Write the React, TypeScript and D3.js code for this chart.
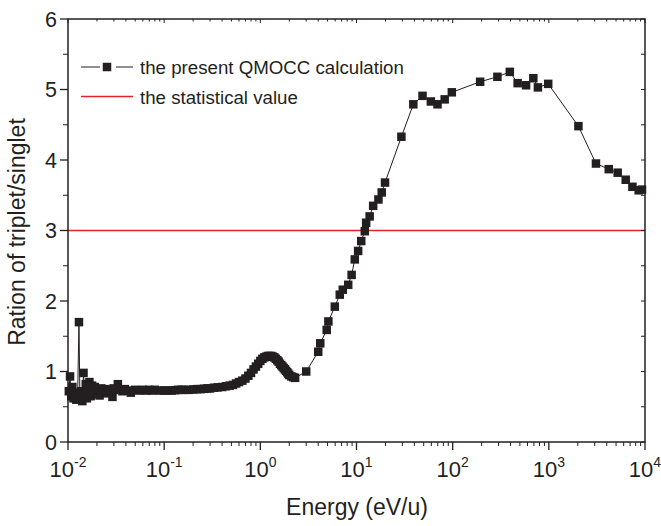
import React from "react";
import * as d3 from "d3";

const noisyX = [0.0102, 0.0105, 0.0108, 0.0111, 0.0114, 0.0118, 0.0122, 0.0126, 0.013, 0.0133, 0.0137, 0.0141, 0.0145, 0.0149, 0.0153, 0.0157, 0.0162, 0.0167, 0.0172, 0.0178, 0.0184, 0.019, 0.0197, 0.0205, 0.0213, 0.0222, 0.0232, 0.0243, 0.0255, 0.0268, 0.0282, 0.029, 0.0298, 0.0315, 0.033, 0.0348, 0.0368, 0.039, 0.042, 0.045];
const noisyY = [0.72, 0.93, 0.65, 0.78, 0.62, 0.7, 0.6, 0.66, 1.7, 0.62, 0.72, 0.58, 0.98, 0.66, 0.82, 0.62, 0.75, 0.85, 0.65, 0.8, 0.68, 0.78, 0.7, 0.74, 0.66, 0.76, 0.71, 0.75, 0.69, 0.74, 0.72, 0.64, 0.76, 0.74, 0.82, 0.74, 0.72, 0.75, 0.73, 0.7];

const smoothX = [0.05, 0.055, 0.06, 0.065, 0.07, 0.075, 0.08, 0.09, 0.1, 0.11, 0.12, 0.13, 0.14, 0.15, 0.16, 0.18, 0.2, 0.22, 0.24, 0.26, 0.28, 0.3, 0.33, 0.36, 0.4, 0.44, 0.48, 0.52, 0.56, 0.6, 0.65, 0.7, 0.75, 0.8, 0.85, 0.9, 0.95, 1.0, 1.05, 1.1, 1.15, 1.2, 1.25, 1.3, 1.35, 1.4, 1.45, 1.5, 1.55, 1.6, 1.65, 1.7, 1.75, 1.8, 1.85, 1.9, 1.95, 2.0, 2.1, 2.2, 2.3];
const smoothY = [0.74, 0.73, 0.74, 0.73, 0.74, 0.73, 0.74, 0.73, 0.73, 0.73, 0.73, 0.735, 0.74, 0.74, 0.74, 0.74, 0.745, 0.75, 0.75, 0.755, 0.76, 0.76, 0.77, 0.775, 0.78, 0.79, 0.8, 0.81, 0.83, 0.85, 0.87, 0.9, 0.94, 0.98, 1.03, 1.07, 1.11, 1.15, 1.18, 1.2, 1.21, 1.22, 1.22, 1.22, 1.21, 1.2, 1.18, 1.16, 1.14, 1.11, 1.09, 1.07, 1.05, 1.03, 1.01, 0.99, 0.97, 0.95, 0.93, 0.92, 0.91];

const sparseX = [3.0, 4.0, 4.2, 4.9, 5.1, 5.95, 6.7, 7.2, 8.2, 8.9, 9.6, 10.4, 11.2, 12.2, 12.6, 13.7, 14.9, 16.9, 18.3, 19.8, 29.3, 39, 48.6, 59.3, 69.6, 82.6, 98, 193, 292, 393, 474, 580, 690, 770, 985, 2030, 3090, 4200, 5200, 6300, 7400, 8600, 9300];
const sparseY = [1.0, 1.28, 1.4, 1.59, 1.71, 1.92, 2.09, 2.16, 2.23, 2.37, 2.59, 2.71, 2.85, 2.99, 3.11, 3.2, 3.35, 3.44, 3.54, 3.68, 4.33, 4.79, 4.91, 4.83, 4.79, 4.86, 4.96, 5.11, 5.18, 5.25, 5.09, 5.06, 5.16, 5.03, 5.08, 4.48, 3.95, 3.87, 3.82, 3.72, 3.62, 3.57, 3.58];

const xExponents = [-2, -1, 0, 1, 2, 3, 4];
const yTicks = [0, 1, 2, 3, 4, 5, 6];
const statisticalValue = 3;
const legendLabels = ["the present QMOCC calculation", "the statistical value"];
const xTitle = "Energy (eV/u)";
const yTitle = "Ration of triplet/singlet";

const W = 661, H = 526;
const L = 68, R = 645, T = 19, B = 442;
const INK = "#231f20";
const RED = "#e8202a";
const FONT = "'Liberation Sans', Arial, sans-serif";

export default function App() {
  const x = d3.scaleLog().domain([1e-2, 1e4]).range([L, R]);
  const y = d3.scaleLinear().domain([0, 6]).range([B, T]);

  const pts: [number, number][] = [
    ...noisyX.map((v, i) => [v, noisyY[i]] as [number, number]),
    ...smoothX.map((v, i) => [v, smoothY[i]] as [number, number]),
    ...sparseX.map((v, i) => [v, sparseY[i]] as [number, number]),
  ];
  const line = d3.line<[number, number]>().x(d => x(d[0])).y(d => y(d[1]));

  const minorX: number[] = [];
  for (let e = -2; e < 4; e++) for (let m = 2; m <= 9; m++) minorX.push(m * Math.pow(10, e));
  const minorY = [0.5, 1.5, 2.5, 3.5, 4.5, 5.5];
  const ms = 8.5;

  return (
    <svg width={W} height={H} style={{ position: "absolute", left: 0, top: 0, background: "#fff" }} fontFamily={FONT}>
      <rect x={0} y={0} width={W} height={H} fill="#fff" />
      <line x1={L} x2={R} y1={y(statisticalValue)} y2={y(statisticalValue)} stroke={RED} strokeWidth={1.5} />
      <path d={line(pts) || ""} fill="none" stroke={INK} strokeWidth={1} />
      {pts.map((d, i) => (
        <rect key={i} x={x(d[0]) - ms / 2} y={y(d[1]) - ms / 2} width={ms} height={ms} fill={INK} />
      ))}
      <rect x={L} y={T} width={R - L} height={B - T} fill="none" stroke={INK} strokeWidth={1.5} />
      {xExponents.map(e => (
        <g key={"xt" + e}>
          <line x1={x(Math.pow(10, e))} x2={x(Math.pow(10, e))} y1={B} y2={B + 8} stroke={INK} strokeWidth={1.3} />
          <line x1={x(Math.pow(10, e))} x2={x(Math.pow(10, e))} y1={T} y2={T + 4} stroke={INK} strokeWidth={1} />
          <text x={x(Math.pow(10, e))} y={477} textAnchor="middle" fontSize={22} fill={INK}>
            10<tspan dy={-10} fontSize={14}>{e}</tspan>
          </text>
        </g>
      ))}
      {minorX.map((v, i) => (
        <g key={"xm" + i}>
          <line x1={x(v)} x2={x(v)} y1={B} y2={B + 4} stroke={INK} strokeWidth={1} />
          <line x1={x(v)} x2={x(v)} y1={T} y2={T + 2.5} stroke={INK} strokeWidth={1} />
        </g>
      ))}
      {yTicks.map(t => (
        <g key={"yt" + t}>
          <line x1={L - 8} x2={L} y1={y(t)} y2={y(t)} stroke={INK} strokeWidth={1.3} />
          <line x1={R - 4} x2={R} y1={y(t)} y2={y(t)} stroke={INK} strokeWidth={1} />
          <text x={57} y={y(t) + 7.5} textAnchor="end" fontSize={21.5} fill={INK}>{t}</text>
        </g>
      ))}
      {minorY.map(t => (
        <g key={"ym" + t}>
          <line x1={L - 5} x2={L} y1={y(t)} y2={y(t)} stroke={INK} strokeWidth={1} />
          <line x1={R - 4} x2={R} y1={y(t)} y2={y(t)} stroke={INK} strokeWidth={1} />
        </g>
      ))}
      <text x={357} y={515} textAnchor="middle" fontSize={23} fill={INK}>{xTitle}</text>
      <text transform={`translate(25, 232) rotate(-90)`} textAnchor="middle" fontSize={23} fill={INK}>{yTitle}</text>
      <line x1={81} x2={100} y1={67} y2={67} stroke={INK} strokeWidth={1} />
      <rect x={107 - ms / 2} y={67 - ms / 2} width={ms} height={ms} fill={INK} />
      <line x1={116} x2={133} y1={67} y2={67} stroke={INK} strokeWidth={1} />
      <text x={140} y={74} fontSize={18.7} fill={INK}>{legendLabels[0]}</text>
      <line x1={81} x2={133} y1={96.5} y2={96.5} stroke={RED} strokeWidth={1.5} />
      <text x={140} y={103.5} fontSize={18.7} fill={INK}>{legendLabels[1]}</text>
    </svg>
  );
}
